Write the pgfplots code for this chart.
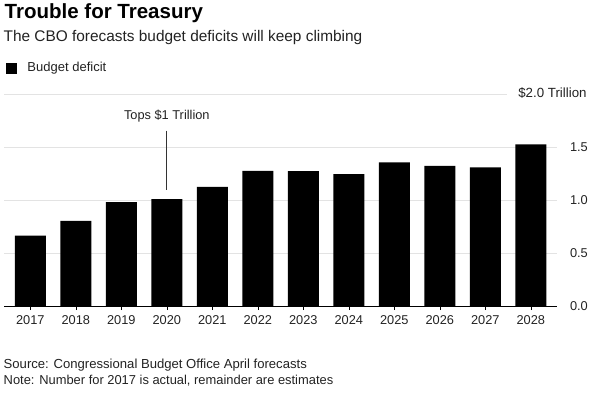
\documentclass[border=0pt]{standalone}
\usepackage{fontspec}
\setmainfont{Liberation Sans}
\usepackage{pgfplots}
\pgfplotsset{compat=1.18}
\definecolor{gridc}{HTML}{E3E3E3}
\definecolor{txt}{HTML}{222222}
\begin{document}
\begin{tikzpicture}[x=1bp,y=1bp]
\path[use as bounding box] (0,0) rectangle (600,-392);
\node[anchor=base west, inner sep=0, font=\fontsize{20.5bp}{23bp}\selectfont\bfseries] at (4.5,-18.8) {Trouble for Treasury};
\node[anchor=base west, inner sep=0, font=\fontsize{15.4bp}{18bp}\selectfont, text=txt] at (3.5,-41.5) {The CBO forecasts budget deficits will keep climbing};
\fill[black] (6,-63.3) rectangle (17,-74);
\node[anchor=base west, inner sep=0, font=\fontsize{13bp}{15bp}\selectfont, text=txt] at (27.3,-71.7) {Budget deficit};
\node[anchor=base west, inner sep=0, font=\fontsize{13.1bp}{15bp}\selectfont, text=txt] at (3.5,-368.3) {Source: Congressional Budget Office April forecasts};
\node[anchor=base west, inner sep=0, font=\fontsize{12.9bp}{15bp}\selectfont, text=txt] at (3.5,-384.5) {Note: Number for 2017 is actual, remainder are estimates};
\begin{axis}[
  at={(4bp,-306bp)}, anchor=south west,
  scale only axis, width=553bp, height=212bp,
  xmin=-0.578, xmax=11.575, ymin=0, ymax=2,
  axis x line=bottom, axis y line=right,
  x axis line style={-, black, line width=0.8pt},
  y axis line style={draw=none},
  ytick={0,0.5,1,1.5},
  ymajorgrids, grid style={gridc, line width=0.9pt},
  ytick style={draw=none},
  yticklabel style={anchor=west, xshift=5.5bp, font=\fontsize{12.8bp}{15bp}\selectfont, text=txt,
    /pgf/number format/.cd, fixed, fixed zerofill, precision=1},
  xtick=data,
  xticklabels={2017,2018,2019,2020,2021,2022,2023,2024,2025,2026,2027,2028},
  tick align=outside,
  xtick style={black, line width=0.6pt},
  major tick length=4bp,
  xticklabel style={font=\fontsize{12.8bp}{15bp}\selectfont, text=txt, yshift=-2.5bp},
  /pgf/number format/assume math mode=true,
  ybar, bar width=31bp,
  clip=false,
]
\addplot[fill=black, draw=none] coordinates {
(0,0.665) (1,0.804) (2,0.981) (3,1.008) (4,1.123) (5,1.276)
(6,1.273) (7,1.244) (8,1.354) (9,1.322) (10,1.309) (11,1.526)
};
\draw[gridc, line width=0.9pt] (axis cs:-0.578,2) -- (axis cs:10.48,2);
\node[anchor=base west, inner sep=0, font=\fontsize{13.3bp}{15bp}\selectfont, text=txt] at (axis cs:10.72,1.969) {\$2.0 Trillion};
\node[anchor=base, inner sep=0, font=\fontsize{12.8bp}{15bp}\selectfont, text=txt] at (axis cs:3,1.759) {Tops \$1 Trillion};
\draw[black!80, line width=0.7pt] (axis cs:3,1.654) -- (axis cs:3,1.094);
\end{axis}
\end{tikzpicture}
\end{document}
